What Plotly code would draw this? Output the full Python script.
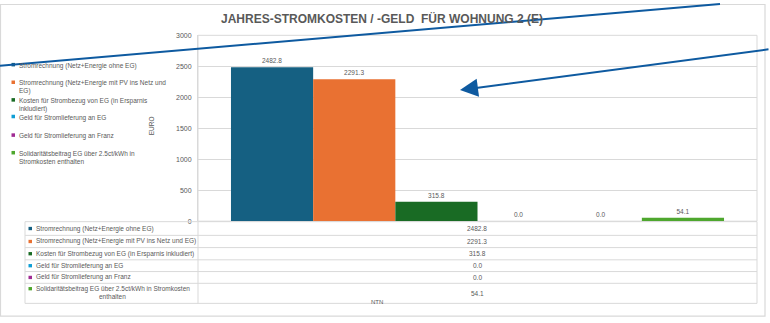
import textwrap
import plotly.graph_objects as go

# ---- data -------------------------------------------------------------
category = "NTN"
series_names = [
    "Stromrechnung (Netz+Energie ohne EG)",
    "Stromrechnung (Netz+Energie mit PV ins Netz und EG)",
    "Kosten für Strombezug von EG (in Ersparnis inkludiert)",
    "Geld für Stromlieferung an EG",
    "Geld für Stromlieferung an Franz",
    "Solidaritätsbeitrag EG über 2.5ct/kWh in Stromkosten enthalten",
]
series_values = [2482.8, 2291.3, 315.8, 0.0, 0.0, 54.1]
series_colors = ["#156082", "#E97132", "#196B24", "#0F9ED5", "#A02B93", "#4EA72E"]
y_ticks = [0, 500, 1000, 1500, 2000, 2500, 3000]
title_text = "JAHRES-STROMKOSTEN / -GELD  FÜR WOHNUNG 2 (E)"
y_title = "EURO"

W, H = 770, 323
GRID = "#D9D9D9"
TXT = "#595959"
FONT = "Liberation Sans"


def px(x):
    return x / W


def py(y):
    return 1 - y / H


# plot area in pixels
PL, PR, PT, PB = 198, 757, 32, 222

fig = go.Figure()
for name, val, col in zip(series_names, series_values, series_colors):
    fig.add_trace(go.Bar(
        x=[category], y=[val], name=name, marker=dict(color=col, line=dict(width=0)),
        text=[f"{val:.1f}"], textposition="outside", cliponaxis=False,
        textfont=dict(size=6.5, color=TXT, family=FONT), showlegend=False,
    ))

shapes = []
annotations = []

# plot-area frame
shapes.append(dict(type="rect", xref="paper", yref="paper",
                   x0=px(PL), x1=px(PR), y0=py(PB), y1=py(PT),
                   line=dict(color=GRID, width=1), layer="below"))
# outer chart frame
shapes.append(dict(type="rect", xref="paper", yref="paper",
                   x0=px(0.5), x1=px(765), y0=py(319), y1=py(0.5),
                   line=dict(color=GRID, width=1.2), layer="below"))

# legend on the left
legend_rows = [62, 80, 98, 115, 134, 152]
for name, col, yc in zip(series_names, series_colors, legend_rows):
    shapes.append(dict(type="rect", xref="paper", yref="paper",
                       x0=px(11.5), x1=px(15), y0=py(yc + 1.8), y1=py(yc - 1.8),
                       fillcolor=col, line=dict(width=0)))
    label = "<br>".join(textwrap.wrap(name, 48))
    annotations.append(dict(xref="paper", yref="paper", x=px(17), y=py(yc - 5),
                            xanchor="left", yanchor="top", align="left",
                            text=label, showarrow=False,
                            font=dict(size=6.5, color=TXT, family=FONT)))

# data table below the plot
row_lines = [222.5, 236.5, 249, 261.5, 273.5, 285.5, 306]
TL = 25
for yl in row_lines:
    shapes.append(dict(type="line", xref="paper", yref="paper",
                       x0=px(TL), x1=px(PR), y0=py(yl), y1=py(yl),
                       line=dict(color=GRID, width=1)))
for xl in (TL, PL, PR):
    shapes.append(dict(type="line", xref="paper", yref="paper",
                       x0=px(xl), x1=px(xl), y0=py(row_lines[0]), y1=py(row_lines[-1]),
                       line=dict(color=GRID, width=1)))

TFS = 6.5
for i, (name, val, col) in enumerate(zip(series_names, series_values, series_colors)):
    top, bot = row_lines[i], row_lines[i + 1]
    yc = (top + bot) / 2
    lines = textwrap.wrap(name, 55)
    first_c = yc if len(lines) == 1 else top + 5.5
    shapes.append(dict(type="rect", xref="paper", yref="paper",
                       x0=px(28.5), x1=px(32), y0=py(first_c + 1.7), y1=py(first_c - 1.7),
                       fillcolor=col, line=dict(width=0)))
    annotations.append(dict(xref="paper", yref="paper", x=px(33.5), y=py(first_c),
                            xanchor="left", yanchor="middle", text=lines[0],
                            showarrow=False,
                            font=dict(size=TFS, color=TXT, family=FONT)))
    if len(lines) > 1:
        annotations.append(dict(xref="paper", yref="paper", x=px(112), y=py(bot - 7),
                                xanchor="center", yanchor="middle", text=lines[1],
                                showarrow=False,
                                font=dict(size=TFS, color=TXT, family=FONT)))
    annotations.append(dict(xref="paper", yref="paper", x=px((PL + PR) / 2), y=py(yc),
                            xanchor="center", yanchor="middle", text=f"{val:.1f}",
                            showarrow=False,
                            font=dict(size=TFS, color=TXT, family=FONT)))

# category label
annotations.append(dict(xref="paper", yref="paper", x=px(377), y=py(305),
                        xanchor="center", yanchor="middle", text=category,
                        showarrow=False, font=dict(size=6, color=TXT, family=FONT)))

# axis title
annotations.append(dict(xref="paper", yref="paper", x=px(151), y=py(125),
                        xanchor="center", yanchor="middle", text=y_title, textangle=-90,
                        showarrow=False, font=dict(size=6.5, color=TXT, family=FONT)))

# chart title
annotations.append(dict(xref="paper", yref="paper", x=px(382), y=py(15),
                        xanchor="center", yanchor="middle", text=f"<b>{title_text}</b>",
                        showarrow=False, font=dict(size=12, color=TXT, family=FONT)))

# hand-drawn callout lines
LINE_BLUE = "#0E5AA0"
shapes.append(dict(type="line", xref="paper", yref="paper",
                   x0=px(0), y0=py(63), x1=px(720), y1=py(0),
                   line=dict(color=LINE_BLUE, width=2)))
annotations.append(dict(xref="paper", yref="paper", x=px(460), y=py(88),
                        ax=775 - 460, ay=47 - 88, axref="pixel", ayref="pixel",
                        text="", showarrow=True, arrowhead=2, arrowsize=1.8,
                        arrowwidth=2, arrowcolor=LINE_BLUE))

fig.update_layout(
    width=W, height=H, autosize=False,
    margin=dict(l=0, r=0, t=0, b=0),
    paper_bgcolor="white", plot_bgcolor="white",
    barmode="group", bargap=0.118, bargroupgap=0,
    font=dict(family=FONT, color=TXT),
    xaxis=dict(domain=[px(PL), px(PR)], showticklabels=False, showgrid=False,
               zeroline=False, showline=False, ticks=""),
    yaxis=dict(domain=[py(PB), py(PT)], range=[0, 3000], tickvals=y_ticks,
               showgrid=True, gridcolor=GRID, gridwidth=1, zeroline=False,
               showline=True, linecolor=GRID, linewidth=1, ticks="",
               tickfont=dict(size=7, color=TXT, family=FONT), ticklabelstandoff=4),
    shapes=shapes, annotations=annotations,
)

fig.write_html("out.html")
